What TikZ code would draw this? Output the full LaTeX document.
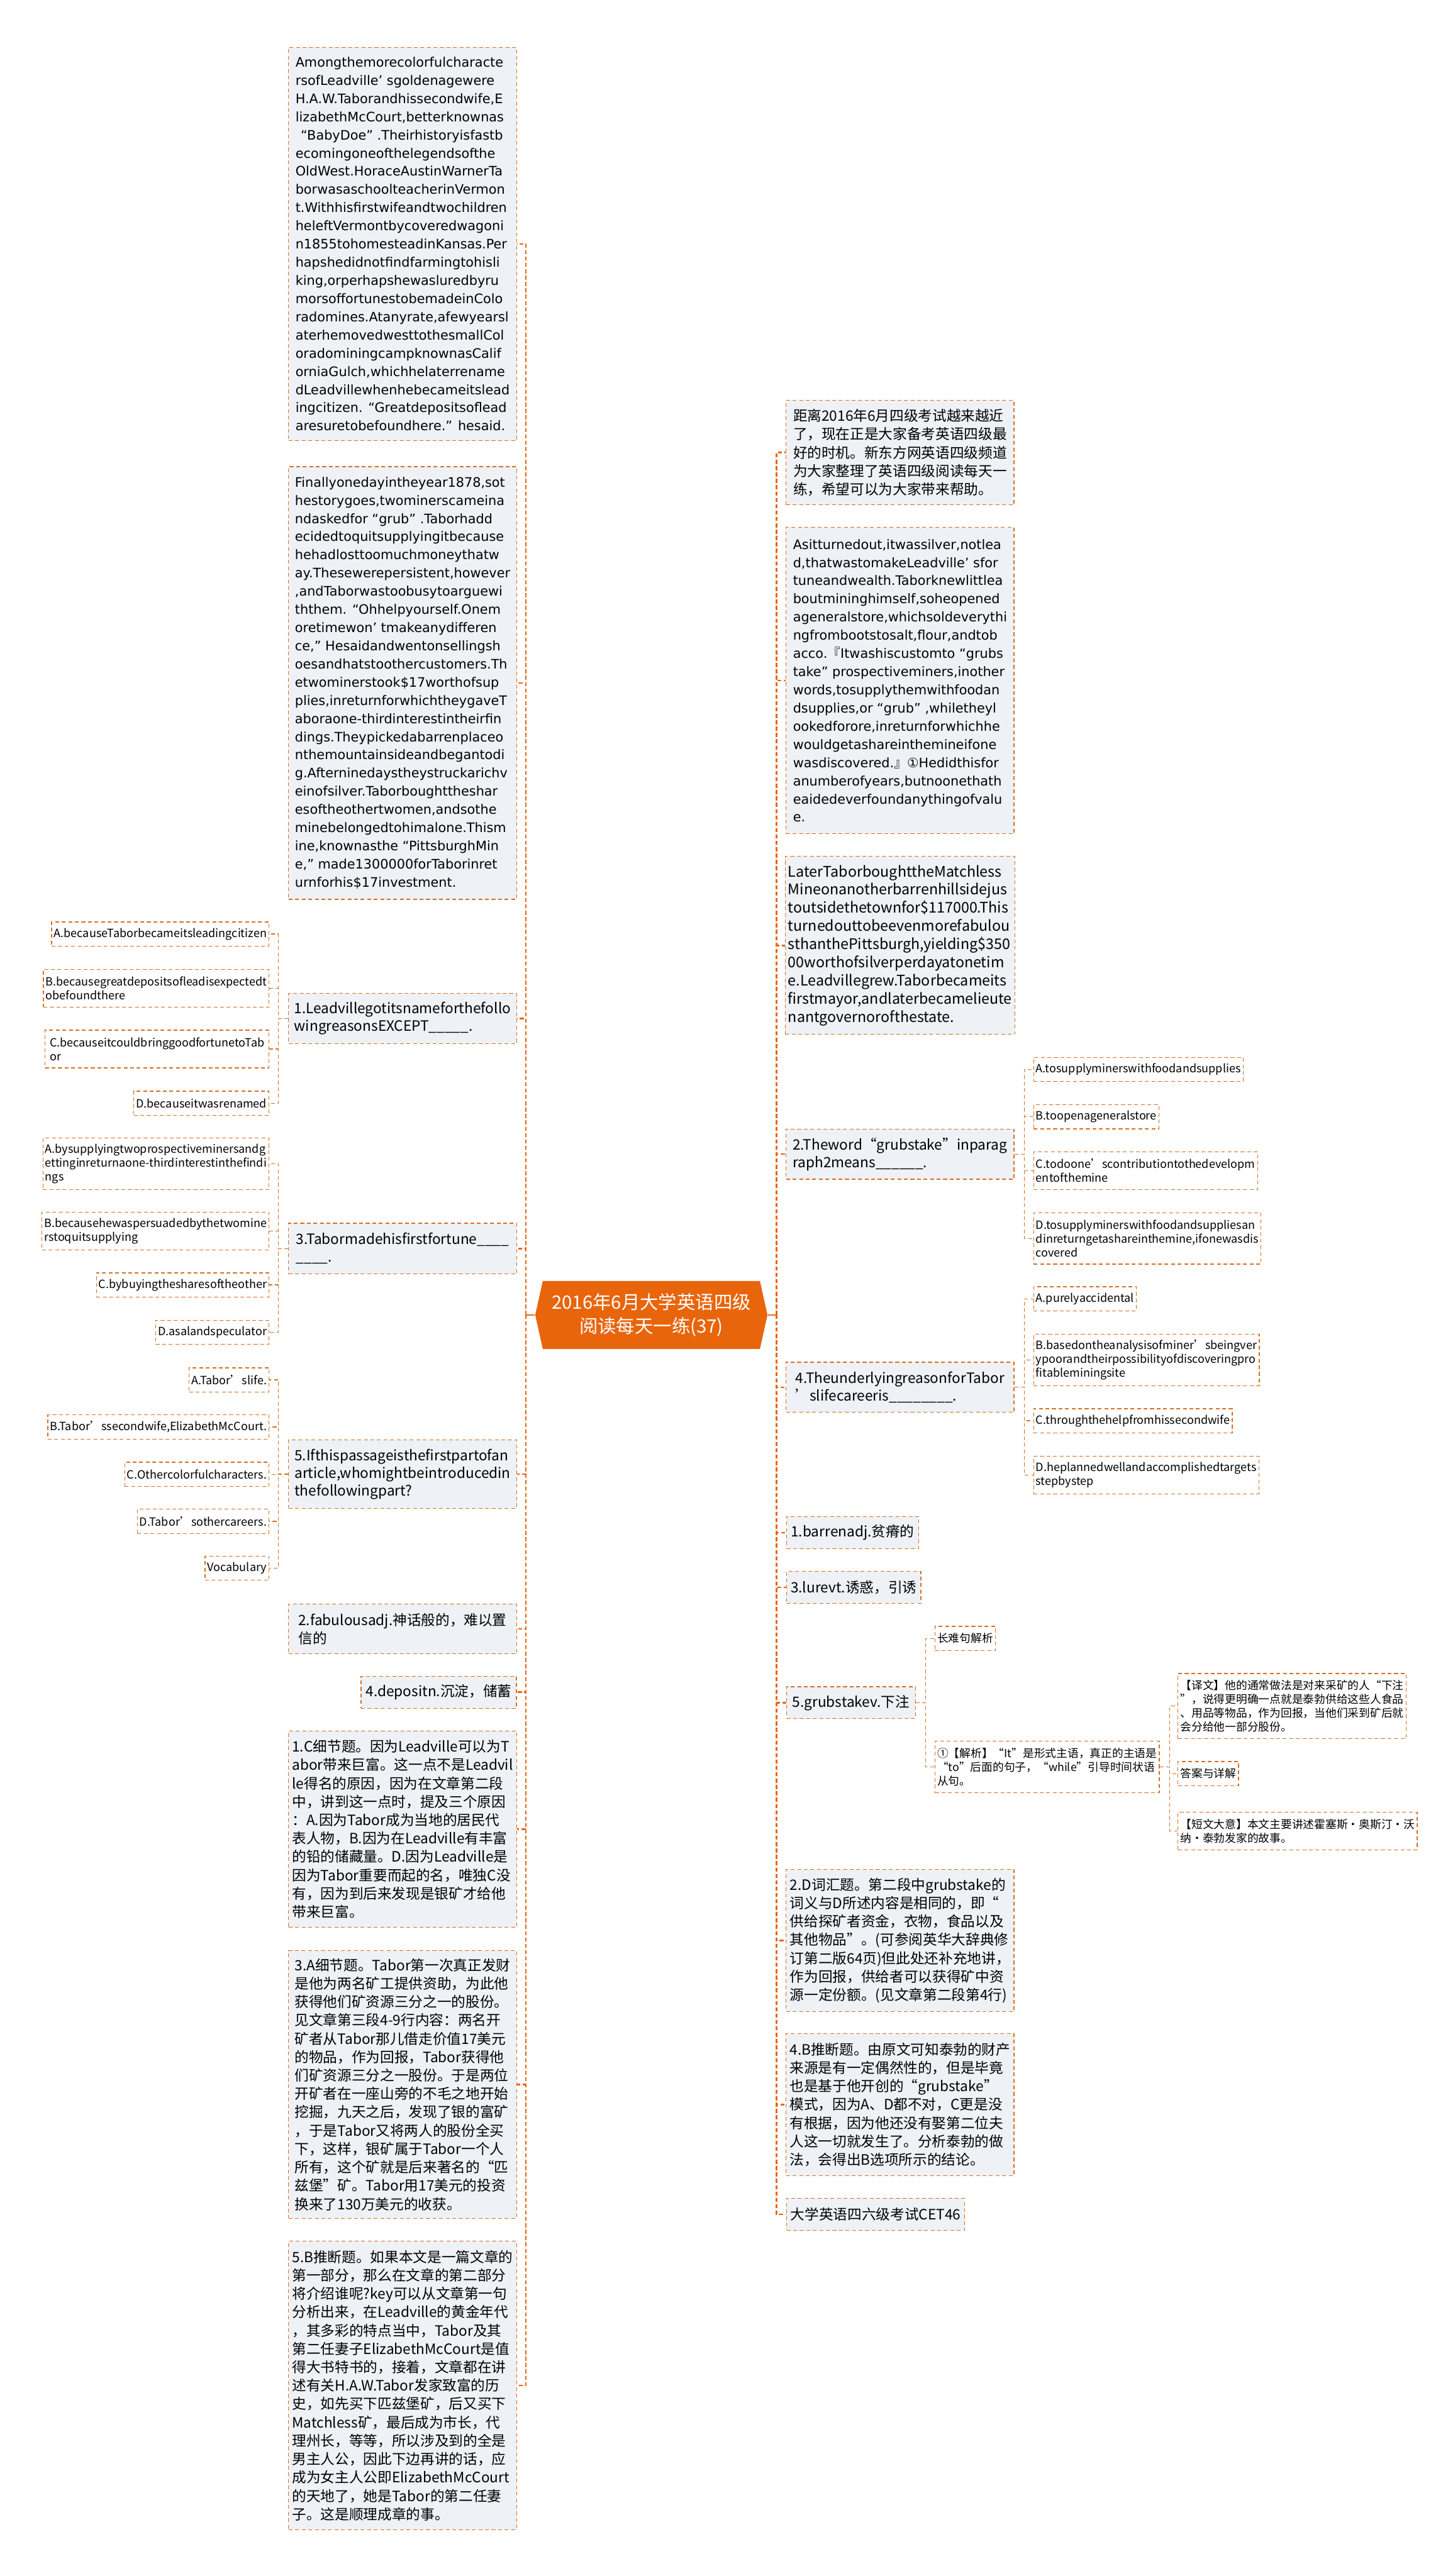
\documentclass[tikz,border=0pt]{standalone}
\usepackage{fontspec}
\setmainfont{Noto Sans CJK SC}
\newfontfamily\passagefont{DejaVu Sans}
\newfontfamily\cjkfont{Noto Sans CJK SC}
\usetikzlibrary{shapes.symbols}
\definecolor{mapOrange}{HTML}{E8650C}
\definecolor{lineOrange}{HTML}{D56F24}
\definecolor{boxFill}{HTML}{EEF1F5}

\begin{document}
\begin{tikzpicture}[
    x=0.03cm, y=-0.03cm,
    every node/.style={align=left, inner xsep=1.5pt, inner ysep=0pt},
    leaf/.style={rectangle, draw=lineOrange, line width=0.4pt, dash pattern=on 2pt off 1.4pt, fill=boxFill},
    passage/.style={leaf, minimum width=4.16cm, font=\passagefont\fontsize{6.8}{9.45}\selectfont},
    story/.style={leaf, minimum width=4.16cm, font=\fontsize{7.6}{9.45}\selectfont},
    topic/.style={leaf, font=\fontsize{7.4}{9.55}\selectfont},
    question/.style={leaf, minimum width=4.16cm, font=\fontsize{7.4}{9.15}\selectfont},
    choice/.style={leaf, fill=white, inner xsep=1.2pt, font=\fontsize{5.9}{7.15}\selectfont},
    note/.style={choice, font=\fontsize{5.8}{7.15}\selectfont},
    root/.style={signal, signal to=west and east, signal pointer angle=155, fill=mapOrange, text=white, align=center, minimum width=4.24cm, minimum height=1.24cm, font=\fontsize{9.6}{12.4}\selectfont},
    trunk/.style={draw=mapOrange, line width=0.8pt},
    spine/.style={draw=mapOrange, line width=0.8pt, dash pattern=on 2.1pt off 1.2pt},
    branch/.style={draw=lineOrange, line width=0.4pt, dash pattern=on 2pt off 1.4pt}
]
\useasboundingbox (0,0) rectangle (881,1568);

% Root
\node[root] (root) at (396.4,800.4) {2016年6月大学英语四级\\阅读每天一练(37)};
\coordinate (lspine) at (320,800.4);
\coordinate (rspine) at (472.5,800.4);

% Left branch
\node[passage, minimum height=7.18cm] (p1) at (245,148.5) {Amongthemorecolorfulcharacte\\rsofLeadville’ sgoldenagewere\\H.A.W.Taborandhissecondwife,E\\lizabethMcCourt,betterknownas\\\hspace*{0.4em}“BabyDoe” .Theirhistoryisfastb\\ecomingoneofthelegendsofthe\\OldWest.HoraceAustinWarnerTa\\borwasaschoolteacherinVermon\\t.Withhisfirstwifeandtwochildren\\heleftVermontbycoveredwagoni\\n1855tohomesteadinKansas.Per\\hapshedidnotfindfarmingtohisli\\king,orperhapshewasluredbyru\\morsoffortunestobemadeinColo\\radomines.Atanyrate,afewyearsl\\aterhemovedwesttothesmallCol\\oradominingcampknownasCalif\\orniaGulch,whichhelaterrename\\dLeadvillewhenhebecameitslead\\ingcitizen. “Greatdepositsoflead\\aresuretobefoundhere.” hesaid.};
\node[passage, minimum height=7.90cm] (p2) at (245,415.7) {Finallyonedayintheyear1878,sot\\hestorygoes,twominerscameina\\ndaskedfor “grub” .Taborhadd\\ecidedtoquitsupplyingitbecause\\hehadlosttoomuchmoneythatw\\ay.Thesewerepersistent,however\\,andTaborwastoobusytoarguewi\\ththem. “Ohhelpyourself.Onem\\oretimewon’ tmakeanydifferen\\ce,” Hesaidandwentonsellingsh\\oesandhatstoothercustomers.Th\\etwominerstook\$17worthofsup\\plies,inreturnforwhichtheygaveT\\aboraone-thirdinterestintheirfin\\dings.Theypickedabarrenplaceo\\nthemountainsideandbegantodi\\g.Afterninedaystheystruckarichv\\einofsilver.Taborboughttheshar\\esoftheothertwomen,andsothe\\minebelongedtohimalone.Thism\\ine,knownasthe “PittsburghMin\\e,” made1300000forTaborinret\\urnforhis\$17investment.};
\node[question, minimum height=0.915cm] (q1) at (245,620) {1.Leadvillegotitsnameforthefollo\\wingreasonsEXCEPT\_\_\_\_\_.};
\node[question, minimum height=0.925cm] (q3) at (245,760) {3.Tabormadehisfirstfortune\_\_\_\_\\\_\_\_\_.};
\node[question, minimum height=1.25cm] (q5) at (245,897.3) {5.Ifthispassageisthefirstpartofan\\article,whomightbeintroducedin\\thefollowingpart?};
\node[topic, minimum width=4.16cm, minimum height=0.91cm] (v2) at (245,991.5) {2.fabulousadj.神话般的，难以置\\信的};
\node[topic, anchor=east, minimum width=2.835cm, minimum height=0.585cm] (v4) at (314.5,1030) {4.depositn.沉淀，储蓄};
\node[topic, minimum width=4.16cm, minimum height=3.59cm] (a1) at (245,1113.4) {1.C细节题。因为Leadville可以为T\\abor带来巨富。这一点不是Leadvil\\le得名的原因，因为在文章第二段\\中，讲到这一点时，提及三个原因\\：A.因为Tabor成为当地的居民代\\表人物，B.因为在Leadville有丰富\\的铅的储藏量。D.因为Leadville是\\因为Tabor重要而起的名，唯独C没\\有，因为到后来发现是银矿才给他\\带来巨富。};
\node[topic, minimum width=4.16cm, minimum height=4.89cm] (a3) at (245,1268.8) {3.A细节题。Tabor第一次真正发财\\是他为两名矿工提供资助，为此他\\获得他们矿资源三分之一的股份。\\见文章第三段4-9行内容：两名开\\矿者从Tabor那儿借走价值17美元\\的物品，作为回报，Tabor获得他\\们矿资源三分之一股份。于是两位\\开矿者在一座山旁的不毛之地开始\\挖掘，九天之后，发现了银的富矿\\，于是Tabor又将两人的股份全买\\下，这样，银矿属于Tabor一个人\\所有，这个矿就是后来著名的“匹\\兹堡”矿。Tabor用17美元的投资\\换来了130万美元的收获。};
\node[topic, minimum width=4.16cm, minimum height=5.265cm] (a5) at (245,1452) {5.B推断题。如果本文是一篇文章的\\第一部分，那么在文章的第二部分\\将介绍谁呢?key可以从文章第一句\\分析出来，在Leadville的黄金年代\\，其多彩的特点当中，Tabor及其\\第二任妻子ElizabethMcCourt是值\\得大书特书的，接着，文章都在讲\\述有关H.A.W.Tabor发家致富的历\\史，如先买下匹兹堡矿，后又买下\\Matchless矿，最后成为市长，代\\理州长，等等，所以涉及到的全是\\男主人公，因此下边再讲的话，应\\成为女主人公即ElizabethMcCourt\\的天地了，她是Tabor的第二任妻\\子。这是顺理成章的事。};

% Left choices
\node[choice, anchor=east, minimum height=0.44cm] (q1a) at (164,568.5) {A.becauseTaborbecameitsleadingcitizen};
\node[choice, anchor=east, minimum width=4.09cm, minimum height=0.69cm] (q1b) at (164,601.5) {B.becausegreatdepositsofleadisexpectedt\\obefoundthere};
\node[choice, anchor=east, minimum width=4.09cm, minimum height=0.69cm] (q1c) at (164,638.5) {C.becauseitcouldbringgoodfortunetoTab\\or};
\node[choice, anchor=east, minimum height=0.44cm] (q1d) at (164,671.5) {D.becauseitwasrenamed};
\node[choice, anchor=east, minimum width=4.09cm, minimum height=0.94cm] (q3a) at (164,708.4) {A.bysupplyingtwoprospectiveminersandg\\ettinginreturnaone-thirdinterestinthefindi\\ngs};
\node[choice, anchor=east, minimum width=4.09cm, minimum height=0.69cm] (q3b) at (164,749.3) {B.becausehewaspersuadedbythetwomine\\rstoquitsupplying};
\node[choice, anchor=east, minimum height=0.44cm] (q3c) at (164,782.1) {C.bybuyingthesharesoftheother};
\node[choice, anchor=east, minimum height=0.44cm] (q3d) at (164,811) {D.asalandspeculator};
\node[choice, anchor=east, minimum height=0.44cm] (q5a) at (164,839.9) {A.Tabor’slife.};
\node[choice, anchor=east, minimum height=0.44cm] (q5b) at (164,868.6) {B.Tabor’ssecondwife,ElizabethMcCourt.};
\node[choice, anchor=east, minimum height=0.44cm] (q5c) at (164,897.4) {C.Othercolorfulcharacters.};
\node[choice, anchor=east, minimum height=0.44cm] (q5d) at (164,926) {D.Tabor’sothercareers.};
\node[choice, anchor=east, minimum height=0.44cm] (q5e) at (164,954.6) {Vocabulary};

% Right branch
\node[topic, minimum width=4.16cm, minimum height=1.91cm] (r1) at (547.75,275.5) {距离2016年6月四级考试越来越近\\了，现在正是大家备考英语四级最\\好的时机。新东方网英语四级频道\\为大家整理了英语四级阅读每天一\\练，希望可以为大家带来帮助。};
\node[passage, minimum height=5.59cm] (r2) at (547.75,414.3) {Asitturnedout,itwassilver,notlea\\d,thatwastomakeLeadville’ sfor\\tuneandwealth.Taborknewlittlea\\boutmininghimself,soheopened\\ageneralstore,whichsoldeverythi\\ngfrombootstosalt,flour,andtob\\acco.{\cjkfont 『}Itwashiscustomto “grubs\\take” prospectiveminers,inother\\words,tosupplythemwithfoodan\\dsupplies,or “grub” ,whiletheyl\\ookedforore,inreturnforwhichhe\\wouldgetashareinthemineifone\\wasdiscovered.{\cjkfont 』}①Hedidthisfor\\anumberofyears,butnoonethath\\eaidedeverfoundanythingofvalu\\e.};
\node[story, minimum height=3.25cm] (r3) at (547.75,575.5) {LaterTaborboughttheMatchless\\Mineonanotherbarrenhillsidejus\\toutsidethetownfor\$117000.This\\turnedouttobeevenmorefabulou\\sthanthePittsburgh,yielding\$350\\00worthofsilverperdayatonetim\\e.Leadvillegrew.Taborbecameits\\firstmayor,andlaterbecamelieute\\nantgovernorofthestate.};
\node[question, minimum height=0.915cm] (q2) at (547.75,702.5) {2.Theword“grubstake”inparag\\raph2means\_\_\_\_\_\_.};
\node[question, minimum height=0.915cm] (q4) at (547.75,844.4) {4.TheunderlyingreasonforTabor\\’slifecareeris\_\_\_\_\_\_\_\_.};
\node[topic, anchor=west, minimum width=2.41cm, minimum height=0.585cm] (v1) at (478.5,932.8) {1.barrenadj.贫瘠的};
\node[topic, anchor=west, minimum width=2.45cm, minimum height=0.585cm] (v3) at (478.5,966.2) {3.lurevt.诱惑，引诱};
\node[topic, anchor=west, minimum width=2.35cm, minimum height=0.585cm] (v5) at (478.5,1036.4) {5.grubstakev.下注};
\node[topic, minimum width=4.16cm, minimum height=2.59cm] (a2) at (547.75,1181.2) {2.D词汇题。第二段中grubstake的\\词义与D所述内容是相同的，即“\\供给探矿者资金，衣物，食品以及\\其他物品”。(可参阅英华大辞典修\\订第二版64页)但此处还补充地讲，\\作为回报，供给者可以获得矿中资\\源一定份额。(见文章第二段第4行)};
\node[topic, minimum width=4.16cm, minimum height=2.59cm] (a4) at (547.75,1281.1) {4.B推断题。由原文可知泰勃的财产\\来源是有一定偶然性的，但是毕竟\\也是基于他开创的“grubstake”\\模式，因为A、D都不对，C更是没\\有根据，因为他还没有娶第二位夫\\人这一切就发生了。分析泰勃的做\\法，会得出B选项所示的结论。};
\node[topic, anchor=west, minimum width=3.25cm, minimum height=0.585cm] (cet) at (478.5,1347.8) {大学英语四六级考试CET46};

% Right choices
\node[choice, anchor=west, minimum height=0.44cm] (q2a) at (628.8,650.9) {A.tosupplyminerswithfoodandsupplies};
\node[choice, anchor=west, minimum height=0.44cm] (q2b) at (628.8,679.8) {B.toopenageneralstore};
\node[choice, anchor=west, minimum width=4.09cm, minimum height=0.69cm] (q2c) at (628.8,712.5) {C.todoone’scontributiontothedevelopm\\entofthemine};
\node[choice, anchor=west, minimum width=4.09cm, minimum height=0.94cm] (q2d) at (628.8,753.8) {D.tosupplyminerswithfoodandsuppliesan\\dinreturngetashareinthemine,ifonewasdis\\covered};
\node[choice, anchor=west, minimum height=0.44cm] (q4a) at (628.8,790.6) {A.purelyaccidental};
\node[choice, anchor=west, minimum width=4.09cm, minimum height=0.94cm] (q4b) at (628.8,827.8) {B.basedontheanalysisofminer’sbeingver\\ypoorandtheirpossibilityofdiscoveringpro\\fitableminingsite};
\node[choice, anchor=west, minimum height=0.44cm] (q4c) at (628.8,864.8) {C.throughthehelpfromhissecondwife};
\node[choice, anchor=west, minimum width=4.09cm, minimum height=0.69cm] (q4d) at (628.8,897.8) {D.heplannedwellandaccomplishedtargets\\stepbystep};
\node[note, anchor=west, minimum height=0.44cm] (g1) at (568.8,997.3) {长难句解析};
\node[note, anchor=west, minimum width=4.09cm, minimum height=0.94cm] (g2) at (568.8,1075.5) {①【解析】“It”是形式主语，真正的主语是\\“to”后面的句子，“while”引导时间状语\\从句。};
\node[note, anchor=west, minimum width=4.10cm, minimum height=1.19cm] (g3) at (716.7,1038.5) {【译文】他的通常做法是对来采矿的人“下注\\”，说得更明确一点就是泰勃供给这些人食品\\、用品等物品，作为回报，当他们采到矿后就\\会分给他一部分股份。};
\node[note, anchor=west, minimum height=0.44cm] (g4) at (716.7,1079.6) {答案与详解};
\node[note, anchor=west, minimum width=4.10cm, minimum height=0.69cm] (g5) at (716.7,1114.5) {【短文大意】本文主要讲述霍塞斯·奥斯汀·沃\\纳·泰勃发家的故事。};

% Trunk lines
\draw[trunk] (root.west) -- (lspine);
\draw[trunk] (root.east) -- (rspine);
\draw[spine] (lspine) |- (p1.east);
\draw[spine] (lspine) |- (p2.east);
\draw[spine] (lspine) |- (q1.east);
\draw[spine] (lspine) |- (q3.east);
\draw[spine] (lspine) |- (q5.east);
\draw[spine] (lspine) |- (v2.east);
\draw[spine] (lspine) |- (v4.east);
\draw[spine] (lspine) |- (a1.east);
\draw[spine] (lspine) |- (a3.east);
\draw[spine] (lspine) |- (a5.east);
\draw[spine] (rspine) |- (r1.west);
\draw[spine] (rspine) |- (r2.west);
\draw[spine] (rspine) |- (r3.west);
\draw[spine] (rspine) |- (q2.west);
\draw[spine] (rspine) |- (q4.west);
\draw[spine] (rspine) |- (v1.west);
\draw[spine] (rspine) |- (v3.west);
\draw[spine] (rspine) |- (v5.west);
\draw[spine] (rspine) |- (a2.west);
\draw[spine] (rspine) |- (a4.west);
\draw[spine] (rspine) |- (cet.west);

% Choice lines
\draw[branch] (q1.west) -- ++(-6,0) |- (q1a.east);
\draw[branch] (q1.west) -- ++(-6,0) |- (q1b.east);
\draw[branch] (q1.west) -- ++(-6,0) |- (q1c.east);
\draw[branch] (q1.west) -- ++(-6,0) |- (q1d.east);
\draw[branch] (q3.west) -- ++(-6,0) |- (q3a.east);
\draw[branch] (q3.west) -- ++(-6,0) |- (q3b.east);
\draw[branch] (q3.west) -- ++(-6,0) |- (q3c.east);
\draw[branch] (q3.west) -- ++(-6,0) |- (q3d.east);
\draw[branch] (q5.west) -- ++(-6,0) |- (q5a.east);
\draw[branch] (q5.west) -- ++(-6,0) |- (q5b.east);
\draw[branch] (q5.west) -- ++(-6,0) |- (q5c.east);
\draw[branch] (q5.west) -- ++(-6,0) |- (q5d.east);
\draw[branch] (q5.west) -- ++(-6,0) |- (q5e.east);
\draw[branch] (q2.east) -- ++(6,0) |- (q2a.west);
\draw[branch] (q2.east) -- ++(6,0) |- (q2b.west);
\draw[branch] (q2.east) -- ++(6,0) |- (q2c.west);
\draw[branch] (q2.east) -- ++(6,0) |- (q2d.west);
\draw[branch] (q4.east) -- ++(6,0) |- (q4a.west);
\draw[branch] (q4.east) -- ++(6,0) |- (q4b.west);
\draw[branch] (q4.east) -- ++(6,0) |- (q4c.west);
\draw[branch] (q4.east) -- ++(6,0) |- (q4d.west);
\draw[branch] (v5.east) -- ++(6,0) |- (g1.west);
\draw[branch] (v5.east) -- ++(6,0) |- (g2.west);
\draw[branch] (g2.east) -- ++(6,0) |- (g3.west);
\draw[branch] (g2.east) -- ++(6,0) |- (g4.west);
\draw[branch] (g2.east) -- ++(6,0) |- (g5.west);

\end{tikzpicture}
\end{document}
